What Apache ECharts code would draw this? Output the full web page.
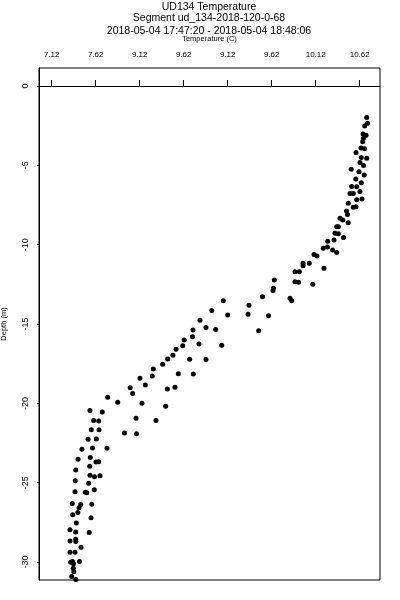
<!DOCTYPE html>
<html>
<head>
<meta charset="utf-8">
<script src="https://cdn.jsdelivr.net/npm/echarts@6/dist/echarts.min.js"></script>
<style>html,body{margin:0;padding:0;background:#fff}#c{width:400px;height:600px}</style>
</head>
<body>
<div id="c"></div>
<script>
const titleLines = ['UD134 Temperature', 'Segment ud_134-2018-120-0-68', '2018-05-04 17:47:20 - 2018-05-04 18:48:06'];
const xName = 'Temperature (C)';
const yName = 'Depth (m)';
const xTickValues = [7.12, 7.62, 8.12, 8.62, 9.12, 9.62, 10.12, 10.62];
const xTickLabels = ['7.12', '7.62', '9.12', '9.62', '9.12', '9.62', '10.12', '10.62'];
const yTickValues = [0, -5, -10, -15, -20, -25, -30];
const temperature = [
10.700,10.709,10.677,10.658,10.692,10.661,10.654,10.635,10.675,10.578,
10.638,10.700,10.623,10.663,10.523,10.612,10.672,10.576,10.638,10.529,
10.586,10.623,10.510,10.547,10.646,10.586,10.490,10.578,10.547,10.470,
10.481,10.396,10.427,10.490,10.359,10.377,10.339,10.377,10.436,10.328,
10.256,10.206,10.254,10.313,10.359,10.101,10.135,9.976,10.047,9.976,
10.214,9.885,9.934,9.650,9.885,9.925,10.087,9.640,9.635,9.515,
9.828,9.847,9.070,9.362,8.939,9.351,9.120,9.584,8.805,8.873,
8.984,8.726,9.472,8.720,8.626,8.794,8.609,9.052,8.533,8.498,
8.438,8.688,8.873,8.381,8.275,8.559,8.729,8.263,8.123,8.184,
8.521,8.012,8.434,8.040,7.756,7.870,8.146,8.415,7.555,7.695,
8.078,8.305,7.597,7.654,7.570,7.658,7.947,8.084,7.533,7.627,
7.464,7.584,7.748,7.419,7.558,7.623,7.654,7.393,7.552,7.555,
7.606,7.669,7.388,7.540,7.604,7.385,7.502,7.518,7.354,7.450,
7.430,7.576,7.417,7.359,7.567,7.400,7.328,7.393,7.546,7.393,
7.328,7.394,7.453,7.328,7.385,7.336,7.356,7.436,7.368,7.365,
7.371,7.348,7.394
];
const depth = [
-1.98,-2.35,-2.52,-3.02,-3.11,-3.31,-3.51,-3.91,-3.95,-4.19,
-4.51,-4.56,-4.82,-5.01,-5.25,-5.41,-5.61,-5.86,-6.09,-6.33,
-6.35,-6.65,-6.77,-6.77,-7.12,-7.16,-7.39,-7.61,-7.64,-7.88,
-8.10,-8.34,-8.44,-8.61,-8.87,-8.87,-9.28,-9.31,-9.55,-9.70,
-9.79,-10.23,-10.14,-10.33,-10.49,-10.62,-10.71,-11.17,-11.17,-11.32,
-11.49,-11.70,-11.70,-12.22,-12.33,-12.37,-12.50,-12.75,-12.89,-13.28,
-13.38,-13.53,-13.53,-13.82,-14.15,-14.39,-14.43,-14.48,-14.76,-15.21,
-15.34,-15.38,-15.43,-15.80,-16.00,-16.26,-16.37,-16.34,-16.59,-16.97,
-17.20,-17.22,-17.23,-17.54,-17.83,-18.13,-18.15,-18.27,-18.42,-18.84,
-18.99,-19.01,-19.09,-19.38,-19.62,-19.93,-19.99,-20.18,-20.44,-20.54,
-20.94,-21.07,-21.07,-21.11,-21.66,-21.66,-21.87,-21.91,-22.26,-22.24,
-22.89,-22.81,-22.83,-23.52,-23.41,-23.69,-23.67,-24.20,-23.96,-24.52,
-24.62,-24.56,-24.87,-25.03,-25.44,-25.57,-25.60,-25.63,-26.30,-26.37,
-26.58,-26.36,-26.87,-27.01,-27.20,-27.54,-27.96,-28.10,-28.13,-28.56,
-28.67,-28.70,-29.07,-29.38,-29.38,-30.01,-29.97,-29.97,-30.10,-30.39,
-30.61,-30.91,-31.10
];
const points = temperature.map((t, i) => [t, depth[i]]);
const FONT = 'Liberation Sans, Arial, sans-serif';
const chart = echarts.init(document.getElementById('c'), null, {renderer: 'canvas'});
const titleStyle = {fontFamily: FONT, fontSize: 10.5, fontWeight: 'normal', color: '#000'};
chart.setOption({
  animation: false,
  backgroundColor: '#fff',
  title: [
    {text: titleLines[0], left: 209, top: 2, padding: 0, textAlign: 'center', textStyle: titleStyle},
    {text: titleLines[1], left: 209, top: 12.5, padding: 0, textAlign: 'center', textStyle: titleStyle},
    {text: titleLines[2], left: 209, top: 25.5, padding: 0, textAlign: 'center', textStyle: titleStyle}
  ],
  grid: {left: 39, top: 68, width: 341, height: 512, containLabel: false, outerBoundsMode: 'none',
    show: true, borderColor: '#000', borderWidth: 1, backgroundColor: 'transparent'},
  xAxis: {
    type: 'value', position: 'top', min: 6.9757, max: 10.8507,
    name: xName, nameLocation: 'middle', nameGap: 25,
    nameTextStyle: {fontFamily: FONT, fontSize: 7.5, color: '#000'},
    axisLine: {show: true, lineStyle: {color: '#000', width: 1}},
    axisTick: {show: true, customValues: xTickValues, length: 6, lineStyle: {color: '#000'}},
    axisLabel: {show: true, customValues: xTickValues, margin: 9, fontFamily: FONT, fontSize: 8, color: '#000',
      formatter: function (v) { const i = xTickValues.findIndex(t => Math.abs(t - v) < 1e-6); return i >= 0 ? xTickLabels[i] : ''; }},
    splitLine: {show: false}
  },
  yAxis: {
    type: 'value', min: -31.128, max: 1.134,
    name: yName, nameLocation: 'middle', nameGap: 31, nameRotate: 90,
    nameTextStyle: {fontFamily: FONT, fontSize: 7.5, color: '#000'},
    axisLine: {show: true, onZero: false, lineStyle: {color: '#000', width: 1}},
    axisTick: {show: true, customValues: yTickValues, length: 2, lineStyle: {color: '#000'}},
    axisLabel: {show: true, customValues: yTickValues, rotate: 90, margin: 9, fontFamily: FONT, fontSize: 9, color: '#000',
      formatter: function (v) { return String(Math.round(v)); }},
    splitLine: {show: false}
  },
  series: [{
    type: 'scatter', data: points, symbol: 'circle', symbolSize: 5,
    itemStyle: {color: '#000', opacity: 1}, clip: true
  }]
});
</script>
</body>
</html>
